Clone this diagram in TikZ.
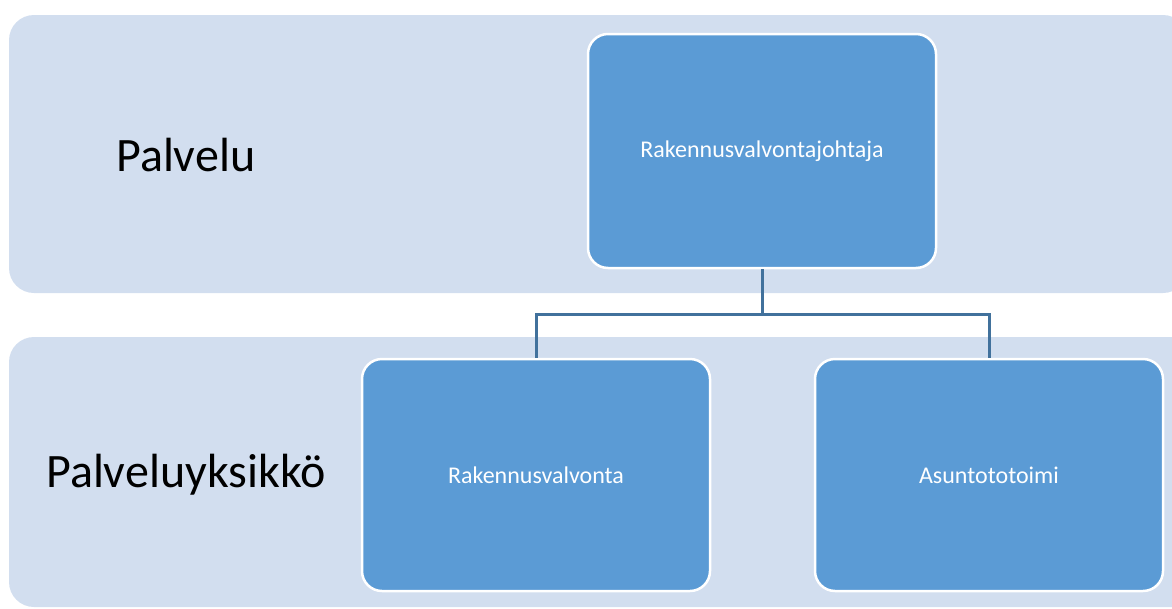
\documentclass[tikz,border=0pt]{standalone}
\usepackage{fontspec}
\setmainfont{Carlito}
\definecolor{band}{RGB}{210,222,239}
\definecolor{boxblue}{RGB}{91,155,213}
\definecolor{linkblue}{RGB}{65,113,156}
\begin{document}
\begin{tikzpicture}[x=1pt,y=-1pt,
  bandshape/.style={fill=band,draw=none,rounded corners=25pt},
  unitbox/.style={draw=white,line width=2.5pt,fill=boxblue,rounded corners=20pt,
    minimum width=348pt,minimum height=232pt,text=white,
    font=\fontsize{24}{29}\selectfont,inner sep=0pt},
  levellabel/.style={anchor=west,text=black,font=\fontsize{48}{58}\selectfont,inner sep=0pt},
  link/.style={draw=linkblue,line width=3pt}]
\useasboundingbox (0,0) rectangle (1172,608);
% level bands
\path[bandshape] (9,15) rectangle (1188,293);
\path[bandshape] (9,337) rectangle (1200,607);
% level labels
\node[levellabel] (lvl1) at (116,155) {Palvelu};
\node[levellabel] (lvl2) at (46,475) {Palveluyksikkö};
% org units
\node[unitbox,minimum height=234pt] (head) at (762,151) {Rakennusvalvontajohtaja};
\node[unitbox] (rv) at (536,475) {Rakennusvalvonta};
\node[unitbox] (as) at (989,475) {Asuntototoimi};
% connectors
\coordinate (split) at (762,314);
\draw[link] (head.south) -- (split);
\draw[link] (split) -| (rv.north);
\draw[link] (split) -| (as.north);
\end{tikzpicture}
\end{document}
